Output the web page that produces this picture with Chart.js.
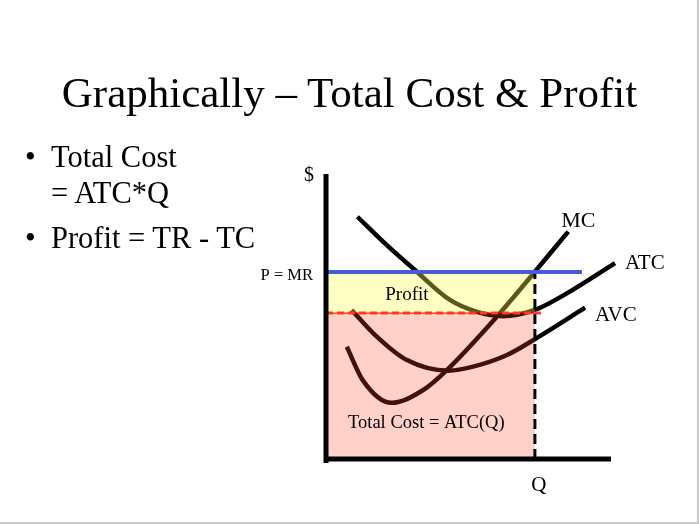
<!DOCTYPE html>
<html>
<head>
<meta charset="utf-8">
<script src="https://cdn.jsdelivr.net/npm/chart.js"></script>
<style>
  html, body { margin: 0; padding: 0; background: #fff; }
  #page { position: relative; width: 699px; height: 524px; overflow: hidden; font-family: "Liberation Serif", "Times New Roman", serif; color: #000; }
  #page canvas { position: absolute; left: 0; top: 0; }
  .txt { position: absolute; line-height: 1; white-space: nowrap; }
  .frameR { position: absolute; left: 697px; top: 0; width: 2px; height: 524px; background: #c8c8c8; }
  .frameB { position: absolute; left: 0; top: 522px; width: 699px; height: 2px; background: #c8c8c8; }
</style>
</head>
<body>
<div id="page">
  <canvas id="costChart" width="699" height="524"></canvas>
  <div class="txt" style="left:0;width:699px;text-align:center;top:71px;font-size:43px;">Graphically – Total Cost &amp; Profit</div>
  <div class="txt" style="left:25px;top:142px;font-size:30.5px;">•</div>
  <div class="txt" style="left:51px;top:142px;font-size:30.5px;">Total Cost</div>
  <div class="txt" style="left:51px;top:178px;font-size:30.5px;">= ATC*Q</div>
  <div class="txt" style="left:25px;top:223px;font-size:30.5px;">•</div>
  <div class="txt" style="left:51px;top:223px;font-size:30.5px;">Profit = TR - TC</div>
  <div class="frameR"></div>
  <div class="frameB"></div>
</div>
<script>
// values (x = quantity, y = $; both on a 0..10 scale)
const priceMR = 6.56;
const qStar = 7.33;
const atcAtQ = 5.12;

const atcX = [1.10, 2.01, 3.12, 4.35, 5.30, 6.20, 7.33, 8.45, 10.14];
const atcY = [8.50, 7.62, 6.63, 5.58, 5.16, 5.01, 5.23, 5.81, 6.87];

const mcX = [0.73, 1.30, 2.30, 3.41, 4.24, 5.99, 7.33, 8.50];
const mcY = [3.94, 2.75, 1.97, 2.42, 3.12, 4.99, 6.57, 7.98];

const avcX = [0.90, 1.65, 2.84, 4.30, 5.16, 6.35, 7.40, 9.09];
const avcY = [5.23, 4.42, 3.47, 3.10, 3.24, 3.65, 4.25, 5.31];

const priceLineEnd = 8.98;
const atcLineEnd = 7.54;

function pts(xs, ys) {
    return xs.map((x, i) => ({ x: x, y: ys[i] }));
}

function seg(x1, y1, x2, y2) {
    return [{ x: x1, y: y1 }, { x: x2, y: y2 }];
}

const curve = (data) => ({
    data: data,
    borderColor: '#000',
    borderWidth: 4.5,
    cubicInterpolationMode: 'monotone',
    fill: false
});

// labels drawn on the canvas next to the marks
const labelPlugin = {
    id: 'labels',
    afterDatasetsDraw(chart) {
        const ctx = chart.ctx;
        const xs = chart.scales.x, ys = chart.scales.y;
        const px = v => xs.getPixelForValue(v);
        const py = v => ys.getPixelForValue(v);
        const put = (text, x, y, size, align) => {
            ctx.font = size + 'px "Liberation Serif", "Times New Roman", serif';
            ctx.fillStyle = '#000';
            ctx.textAlign = align || 'center';
            ctx.textBaseline = 'middle';
            ctx.fillText(text, x, y);
        };
        ctx.save();
        put('MC', px(mcX[mcX.length - 1]) + 10, py(mcY[mcY.length - 1]) - 10, 22);
        put('ATC', px(atcX[atcX.length - 1]) + 10, py(atcY[atcY.length - 1]), 21, 'left');
        put('AVC', px(avcX[avcX.length - 1]) + 10, py(avcY[avcY.length - 1]) + 8, 21, 'left');
        put('P = MR', px(0) - 13, py(priceMR) + 4, 16.5, 'right');
        put('$', px(0) - 17, py(10) + 2, 20);
        put('Q', px(qStar) + 4, py(0) + 26, 21);
        put('Profit', px(2.84), py((priceMR + atcAtQ) / 2) + 2, 19);
        put('Total Cost = ATC(Q)', px(3.52), py(1.26), 18.5);
        ctx.restore();
    }
};

const ctx = document.getElementById('costChart').getContext('2d');
const chart = new Chart(ctx, {
    type: 'scatter',
    data: {
        datasets: [
            // axes
            { data: seg(0, 0, 10, 0), borderColor: '#000', borderWidth: 5, fill: false },
            { data: seg(0, -0.14, 0, 10), borderColor: '#000', borderWidth: 5, fill: false },
            // P = MR
            { data: seg(0, priceMR, priceLineEnd, priceMR), borderColor: '#4a5bd6', borderWidth: 4, fill: false },
            // ATC level, dashed red over a thin solid red
            { data: seg(0, atcAtQ, atcLineEnd, atcAtQ), borderColor: '#ff3b1f', borderWidth: 3, borderDash: [7, 4], fill: false },
            { data: seg(0, atcAtQ, atcLineEnd, atcAtQ), borderColor: '#d40000', borderWidth: 1, fill: false },
            // Q
            { data: seg(qStar, 0, qStar, priceMR), borderColor: '#000', borderWidth: 3, borderDash: [10, 5], fill: false },
            // profit rectangle
            { data: seg(0, priceMR, qStar, priceMR), borderColor: '#9a9aa8', borderWidth: 1.5,
              backgroundColor: 'rgba(255,255,85,0.35)', fill: { value: atcAtQ } },
            // total cost rectangle
            { data: seg(0, atcAtQ, qStar, atcAtQ), borderColor: 'rgba(0,0,0,0)', borderWidth: 0,
              backgroundColor: 'rgba(255,70,40,0.25)', fill: { value: 0 } },
            // cost curves
            curve(pts(atcX, atcY)),
            curve(pts(mcX, mcY)),
            curve(pts(avcX, avcY))
        ]
    },
    options: {
        responsive: false,
        animation: false,
        showLine: true,
        clip: false,
        elements: { point: { radius: 0, hoverRadius: 0 }, line: { borderCapStyle: 'butt' } },
        layout: { padding: { left: 326, right: 88, top: 174, bottom: 65 } },
        scales: {
            x: { type: 'linear', min: 0, max: 10, display: false },
            y: { type: 'linear', min: 0, max: 10, display: false }
        },
        plugins: { legend: { display: false }, tooltip: { enabled: false } }
    },
    plugins: [labelPlugin]
});
</script>
</body>
</html>
